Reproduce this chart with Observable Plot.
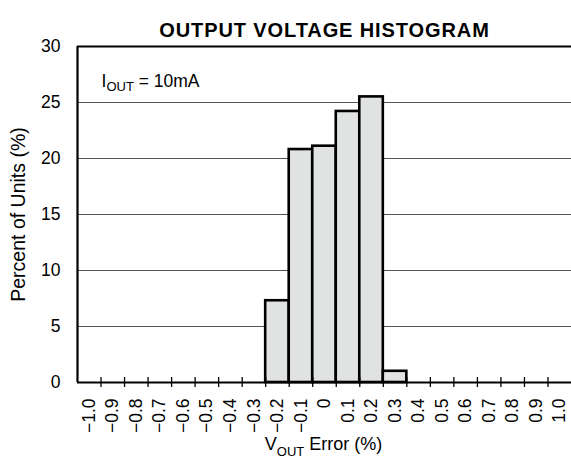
<!DOCTYPE html>
<html><head><meta charset="utf-8">
<script src="https://cdn.jsdelivr.net/npm/d3@7"></script>
<script src="https://cdn.jsdelivr.net/npm/@observablehq/plot@0.6"></script>
<style>body{margin:0;background:#fff} svg{display:block}</style>
</head><body><div id="chart"></div>
<script>
// ---- data ----
const binCenters = [-0.2, -0.1, 0, 0.1, 0.2, 0.3];
const percentUnits = [7.3, 20.8, 21.1, 24.2, 25.5, 1.0];
const binWidth = 0.1;
const xTickValues = [-1.0,-0.9,-0.8,-0.7,-0.6,-0.5,-0.4,-0.3,-0.2,-0.1,0,0.1,0.2,0.3,0.4,0.5,0.6,0.7,0.8,0.9,1.0];
const xTickLabels = ["−1.0","−0.9","−0.8","−0.7","−0.6","−0.5","−0.4","−0.3","−0.2","−0.1","0","0.1","0.2","0.3","0.4","0.5","0.6","0.7","0.8","0.9","1.0"];
const yTickValues = [0, 5, 10, 15, 20, 25, 30];
const gridValues = [5, 10, 15, 20, 25];
const xDomain = [-1.05, 1.05];
const yDomain = [0, 30];
const titleText = "OUTPUT VOLTAGE HISTOGRAM";
const yLabel = "Percent of Units (%)";
const annotationParts = [["I", false], ["OUT", true], [" = 10mA", false]];
const xLabelParts = [["V", false], ["OUT", true], [" Error (%)", false]];

const bins = binCenters.map((c, i) => ({x1: c - binWidth / 2, x2: c + binWidth / 2, y: percentUnits[i]}));
const xEdges = xTickValues.slice(1).map(v => v - binWidth / 2);
const joinParts = p => p.map(d => d[0]).join("");

const plot = Plot.plot({
  width: 571, height: 464,
  marginLeft: 77, marginRight: 0, marginTop: 46, marginBottom: 82,
  style: {fontFamily: "'Liberation Sans', Arial, Helvetica, sans-serif", fontSize: "17px", background: "white", color: "black"},
  x: {domain: xDomain},
  y: {domain: yDomain},
  marks: [
    Plot.gridY(gridValues, {stroke: "#555", strokeOpacity: 1, strokeWidth: 1}),
    Plot.rectY(bins, {x1: "x1", x2: "x2", y: "y", fill: "#e1e3e3", stroke: "black", strokeWidth: 2.6}),
    Plot.ruleX(xEdges, {x: d => d, insetTop: 331, insetBottom: -5, stroke: "black", strokeWidth: 1.3}),
    Plot.ruleY([yDomain[0]], {stroke: "black", strokeWidth: 2.2}),
    Plot.ruleY([yDomain[1]], {stroke: "black", strokeWidth: 2.2}),
    Plot.ruleX([xDomain[0]], {stroke: "black", strokeWidth: 2.2}),
    Plot.axisY(yTickValues, {tickSize: 0, tickPadding: 17, label: yLabel, labelAnchor: "center", labelArrow: "none", labelOffset: 66, fontSize: 17.5}),
    Plot.axisX(xTickValues, {tickSize: 0, tickPadding: 16, tickRotate: -90, tickFormat: d => xTickLabels[xTickValues.indexOf(d)], label: null, fontSize: 17.5}),
    Plot.text([titleText], {frameAnchor: "top", dy: -24, fontWeight: "bold", fontSize: 20, className: "title-note"}),
    Plot.text([joinParts(annotationParts)], {frameAnchor: "top-left", dx: 24, dy: 28, textAnchor: "start", fontSize: 17.5, className: "iout-note"}),
    Plot.text([joinParts(xLabelParts)], {frameAnchor: "bottom", dx: -1, dy: 67, fontSize: 18, className: "xlabel-note"})
  ]
});
document.getElementById("chart").appendChild(plot);

d3.select(plot).selectAll(".title-note text").attr("letter-spacing", "0.9px");
d3.select(plot).selectAll("g[aria-label='y-axis label'] text").attr("font-size", 19.5);

function subscriptify(cls, parts, shift) {
  d3.select(plot).selectAll("." + cls + " text").each(function() {
    const t = d3.select(this);
    t.text(null);
    let shifted = false;
    parts.forEach(([s, sub]) => {
      const ts = t.append("tspan").text(s);
      if (sub && !shifted) { ts.attr("dy", shift).attr("font-size", 13); shifted = true; }
      else if (!sub && shifted) { ts.attr("dy", -shift); shifted = false; }
    });
  });
}
subscriptify("iout-note", annotationParts, 4);
subscriptify("xlabel-note", xLabelParts, 6);
</script>
</body></html>
